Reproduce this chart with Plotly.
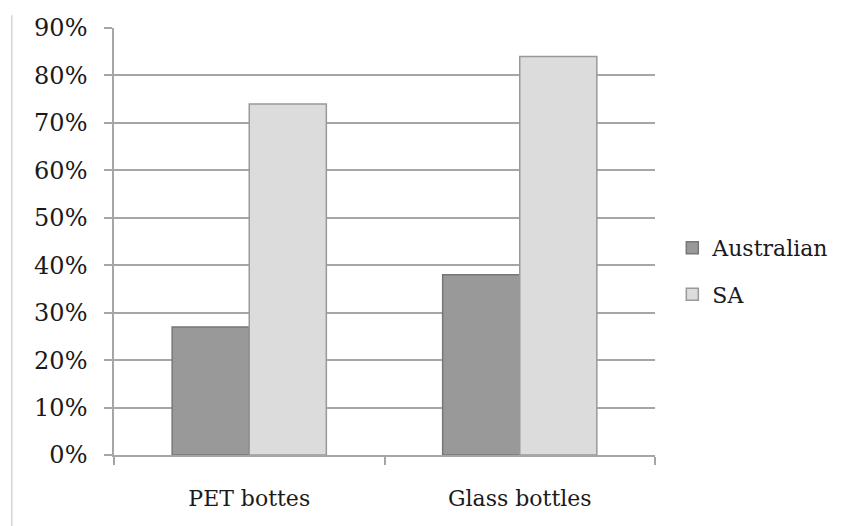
import plotly.graph_objects as go

categories = ["PET bottes", "Glass bottles"]
australian = [0.27, 0.38]
sa = [0.74, 0.84]
y_ticks = [0, 0.1, 0.2, 0.3, 0.4, 0.5, 0.6, 0.7, 0.8, 0.9]

serif = "DejaVu Serif"
grid = "#a6a6a6"

fig = go.Figure()
fig.add_trace(go.Bar(
    x=categories, y=australian, name="Australian",
    marker=dict(color="#999999", line=dict(color="#777777", width=1.5)),
    legendgroup="a"
))
fig.add_trace(go.Bar(
    x=categories, y=sa, name="SA",
    marker=dict(color="#dcdcdc", line=dict(color="#999999", width=1.5)),
    legendgroup="b"
))

# thin frame line on the far left
fig.add_shape(type="line", xref="paper", yref="paper",
              x0=-0.189, x1=-0.189, y0=-0.17, y1=1.03,
              line=dict(color="#d4d4d4", width=1.5))

fig.update_layout(
    width=833, height=518,
    margin=dict(l=106, r=186, t=20, b=71, autoexpand=False),
    paper_bgcolor="white", plot_bgcolor="white",
    barmode="group", bargap=0.43, bargroupgap=0,
    font=dict(family=serif, size=22, color="#1a1a1a"),
    showlegend=True,
    legend=dict(x=1.032, y=0.43, xanchor="left", yanchor="middle",
                traceorder="grouped", tracegroupgap=15,
                font=dict(family=serif, size=22, color="#1a1a1a"),
                bgcolor="rgba(0,0,0,0)"),
    xaxis=dict(showgrid=False, showline=True, linecolor=grid, linewidth=1.5,
               ticks="outside", tickson="boundaries", ticklen=8,
               tickcolor=grid, tickwidth=1.5, ticklabelstandoff=23,
               automargin=False,
               tickfont=dict(family=serif, size=22)),
    yaxis=dict(range=[0, 0.9], tickvals=y_ticks, tickformat=".0%",
               showgrid=True, gridcolor=grid, gridwidth=1.5,
               showline=True, linecolor=grid, linewidth=1.5,
               ticks="outside", ticklen=8, tickcolor=grid, tickwidth=1.5,
               ticklabelstandoff=12, zeroline=False, automargin=False,
               tickfont=dict(family=serif, size=24)),
)

fig.write_html("out.html")
